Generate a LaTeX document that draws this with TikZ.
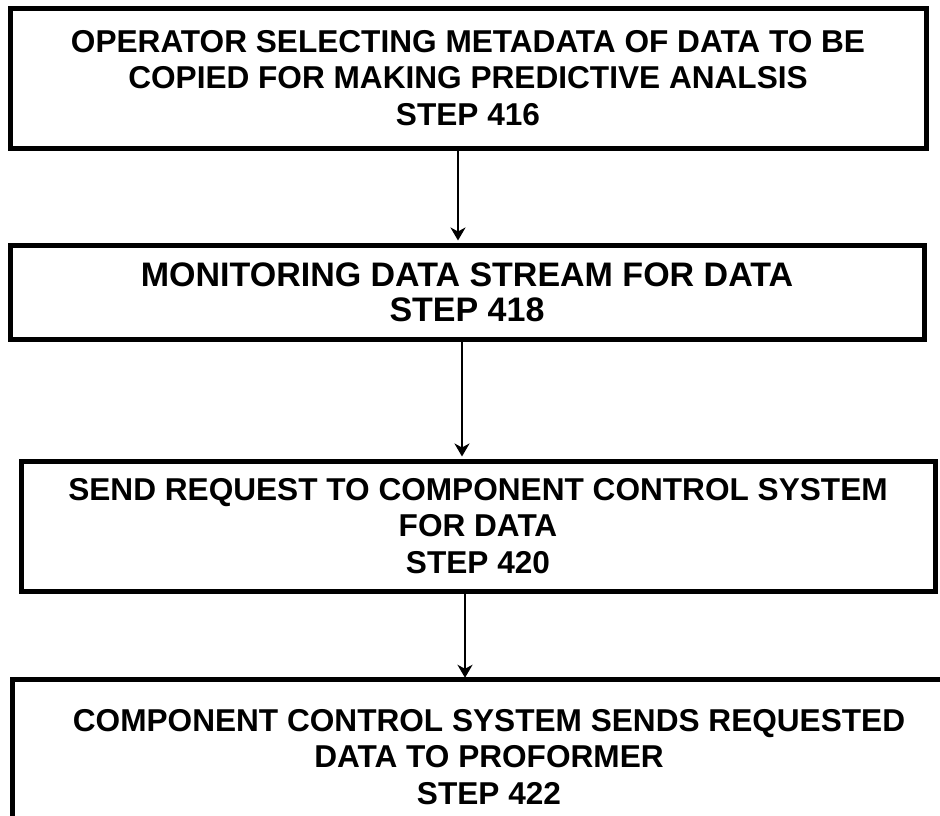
\documentclass[tikz,border=0pt]{standalone}
\usepackage{fontspec}
\setmainfont{Liberation Sans}
\usetikzlibrary{arrows.meta}
\begin{document}
\begin{tikzpicture}[x=1pt,y=-1pt,
  txt/.style={align=center,inner sep=0pt,font=\fontsize{31.6}{36.5}\selectfont\bfseries},
  bigtxt/.style={font=\fontsize{34}{35}\selectfont\bfseries},
  box/.style={txt,draw,line width=5pt,rectangle},
  arr/.style={line width=2.8pt,-{Stealth[length=13pt,width=15pt,inset=4pt]},shorten >=2pt}]
\clip (0,0) rectangle (940,815);
\fill[white] (0,0) rectangle (940,815);
\node[box,minimum width=916pt,minimum height=140pt] (s416) at (468,78)
  {OPERATOR SELECTING METADATA OF DATA TO BE\\COPIED FOR MAKING PREDICTIVE ANALSIS\\STEP 416};
\node[box,bigtxt,minimum width=914pt,minimum height=94pt] (s418) at (467,292)
  {MONITORING DATA STREAM FOR DATA\\STEP 418};
\node[box,minimum width=914pt,minimum height=130pt] (s420) at (478,526)
  {SEND REQUEST TO COMPONENT CONTROL SYSTEM\\FOR DATA\\STEP 420};
\node[minimum width=964pt,minimum height=160pt,inner sep=0pt] (s422) at (495,760) {};
\draw[line width=5pt] (s422.south west) -- (s422.north west) -- (s422.north east);
\node[txt] (t422) at (489,757)
  {COMPONENT CONTROL SYSTEM SENDS REQUESTED\\DATA TO PROFORMER\\STEP 422};
\draw[arr] ([xshift=-10pt]s416.south) -- ([xshift=-9pt]s418.north);
\draw[arr] ([xshift=-5pt]s418.south) -- ([xshift=-16pt]s420.north);
\draw[arr] ([xshift=-13pt]s420.south) -- ([xshift=-13pt]s420.south |- s422.north);
\end{tikzpicture}
\end{document}
